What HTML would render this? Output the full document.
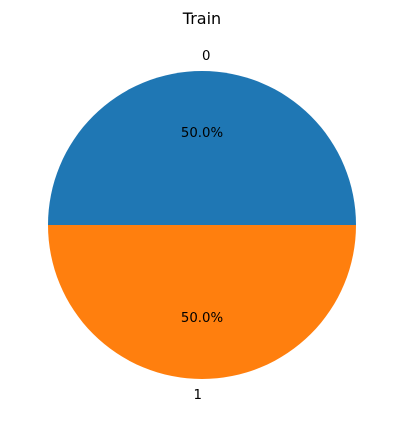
<!DOCTYPE html>
<html>
<head>
<meta charset="utf-8">
<style>
  html, body { margin: 0; padding: 0; background: #fff; }
  svg { display: block; font-family: "DejaVu Sans", "Liberation Sans", sans-serif; }
</style>
</head>
<body>
<svg id="chart" width="404" height="427" viewBox="0 0 404 427">
  <text x="202" y="24" text-anchor="middle" font-size="16" fill="#000">Train</text>
  <g id="slices"></g>
  <g id="labels"></g>
</svg>
<script>
const categories = ["0", "1"];
const values = [50, 50];
const colors = ["#1f77b4", "#ff7f0e"];

const NS = "http://www.w3.org/2000/svg";
const cx = 202, cy = 225, r = 154;
const total = values.reduce((a, b) => a + b, 0);
const slices = document.getElementById("slices");
const labels = document.getElementById("labels");

function pt(angleDeg, rad) {
  const a = angleDeg * Math.PI / 180;
  return [cx + rad * Math.cos(a), cy - rad * Math.sin(a)];
}

let start = 0;
values.forEach((v, i) => {
  const sweep = v / total * 360;
  const end = start + sweep;
  const [x1, y1] = pt(start, r);
  const [x2, y2] = pt(end, r);
  const large = sweep > 180 ? 1 : 0;
  const path = document.createElementNS(NS, "path");
  path.setAttribute("d", `M${cx},${cy} L${x1},${y1} A${r},${r} 0 ${large} 0 ${x2},${y2} Z`);
  path.setAttribute("fill", colors[i % colors.length]);
  
  
  slices.appendChild(path);

  const mid = start + sweep / 2;
  const [lx, ly] = pt(mid, r * 1.1);
  const cosm = Math.cos(mid * Math.PI / 180);
  const lab = document.createElementNS(NS, "text");
  lab.setAttribute("x", lx);
  lab.setAttribute("y", ly + 4.5);
  lab.setAttribute("text-anchor", cosm >= 0 ? "start" : "end");
  lab.setAttribute("font-size", "13.3");
  lab.textContent = categories[i];
  
  
  labels.appendChild(lab);

  const [px, py] = pt(mid, r * 0.6);
  const pct = document.createElementNS(NS, "text");
  pct.setAttribute("x", px);
  pct.setAttribute("y", py + 4.5);
  pct.setAttribute("text-anchor", "middle");
  pct.setAttribute("font-size", "13.3");
  pct.textContent = (v / total * 100).toFixed(1) + "%";
  
  
  labels.appendChild(pct);

  start = end;
});
</script>
</body>
</html>
